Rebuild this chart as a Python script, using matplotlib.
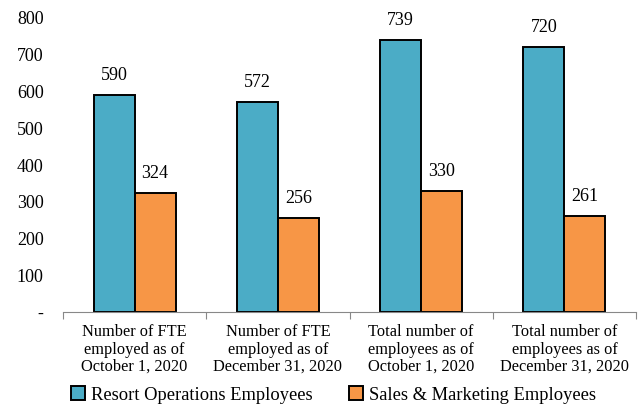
import numpy as np
import matplotlib.pyplot as plt
from matplotlib.ticker import FuncFormatter

categories = ["Number of FTE\nemployed as of\nOctober 1, 2020",
              "Number of FTE\nemployed as of\nDecember 31, 2020",
              "Total number of\nemployees as of\nOctober 1, 2020",
              "Total number of\nemployees as of\nDecember 31, 2020"]
resort_ops = [590, 572, 739, 720]
sales_mkt = [324, 256, 330, 261]
series_names = ["Resort Operations Employees", "Sales & Marketing Employees"]

plt.rcParams['font.family'] = ['Liberation Serif', 'DejaVu Serif']

fig = plt.figure(figsize=(6.39, 4.05), dpi=100)
ax = fig.add_axes([63/639, 1 - 312/405, 573/639, 294/405])

x = np.arange(len(categories))
w = 0.286
b1 = ax.bar(x - w/2, resort_ops, w, color='#4BACC6', edgecolor='black', linewidth=1.4,
            label=series_names[0])
b2 = ax.bar(x + w/2, sales_mkt, w, color='#F79646', edgecolor='black', linewidth=1.4,
            label=series_names[1])
for bars in (b1, b2):
    ax.bar_label(bars, padding=8, fontsize=13)

ax.set_xlim(-0.5, len(categories) - 0.5)
ax.set_ylim(0, 800)
ax.set_yticks(range(0, 801, 100))
ax.yaxis.set_major_formatter(FuncFormatter(lambda v, p: '-' if v == 0 else f'{int(v)}'))
ax.tick_params(axis='y', length=0, labelsize=13, pad=14)

ax.set_xticks(np.arange(len(categories) + 1) - 0.5)
ax.set_xticklabels([])
ax.set_xticks(x, minor=True)
ax.set_xticklabels(categories, minor=True, fontsize=11.8, linespacing=1.1)
ax.tick_params(axis='x', which='major', length=5, color='#888888', direction='out')
ax.tick_params(axis='x', which='minor', length=0, pad=9)

for s in ('left', 'right', 'top'):
    ax.spines[s].set_visible(False)
ax.spines['bottom'].set_color('#888888')

ax.legend(loc='center', bbox_to_anchor=(0.472, -0.282), ncol=2, frameon=False,
          fontsize=13.3, handlelength=0.75, handleheight=0.75, handletextpad=0.3,
          columnspacing=2.0)

fig.savefig('out.png', dpi=100)
